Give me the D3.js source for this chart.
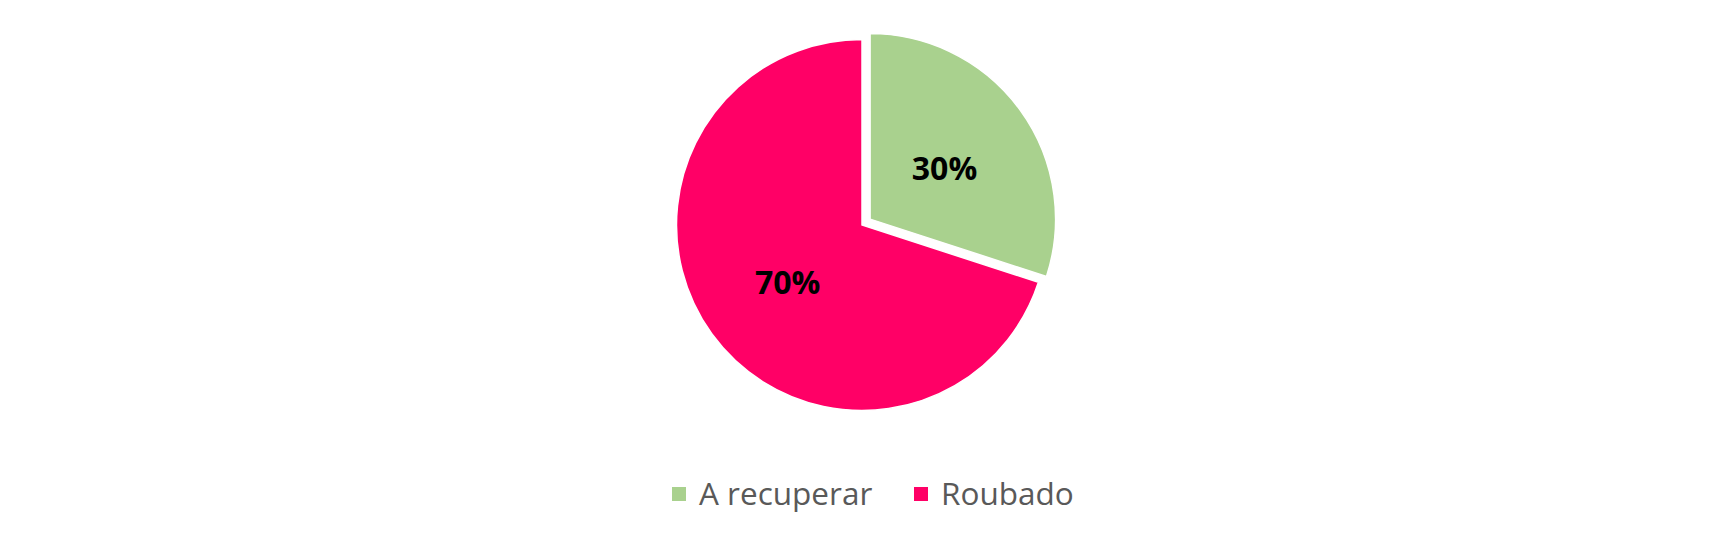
<!DOCTYPE html>
<html><head><meta charset="utf-8">
<script src="https://cdn.jsdelivr.net/npm/d3@7"></script>
<style>body{margin:0;background:#fff;}svg{display:block;}</style>
</head><body>
<script>
const categories = ["A recuperar", "Roubado"];
const values = [30, 70];
const labels = ["30%", "70%"];
const colors = ["#A9D18E", "#FF0066"];

const W = 1729, H = 547;
const svg = d3.select("body").append("svg").attr("width", W).attr("height", H);
const cx = 862, cy = 225, r = 185.5, explode = 10;

const pie = d3.pie().sort(null)(values);
const arc = d3.arc().innerRadius(0).outerRadius(r);
const labelArc = d3.arc().innerRadius(92).outerRadius(92);

const g = svg.append("g").attr("transform", `translate(${cx},${cy})`);
pie.forEach((d, i) => {
  const mid = (d.startAngle + d.endAngle) / 2;
  const off = i === 0 ? explode : 0;
  const dx = Math.sin(mid) * off, dy = -Math.cos(mid) * off;
  const sg = g.append("g").attr("transform", `translate(${dx},${dy})`);
  sg.append("path").attr("d", arc(d)).attr("fill", colors[i]).attr("stroke", "#fff").attr("stroke-width", 1.5);
  const c = labelArc.centroid(d);
  sg.append("text").attr("x", c[0]).attr("y", c[1] + 4).attr("dy", "0.35em")
    .attr("text-anchor", "middle").attr("font-family", "Open Sans").attr("font-weight", "bold")
    .attr("font-size", 32).attr("fill", "#000").text(labels[i]);
});

const legend = svg.append("g");
const items = [{x: 672}, {x: 914}];
categories.forEach((c, i) => {
  legend.append("rect").attr("x", items[i].x).attr("y", 487).attr("width", 14).attr("height", 14).attr("fill", colors[i]);
  legend.append("text").attr("x", items[i].x + 27).attr("y", 505)
    .attr("font-family", "Open Sans").attr("font-size", 31.5).attr("fill", "#595959").text(c);
});
</script>
</body></html>
